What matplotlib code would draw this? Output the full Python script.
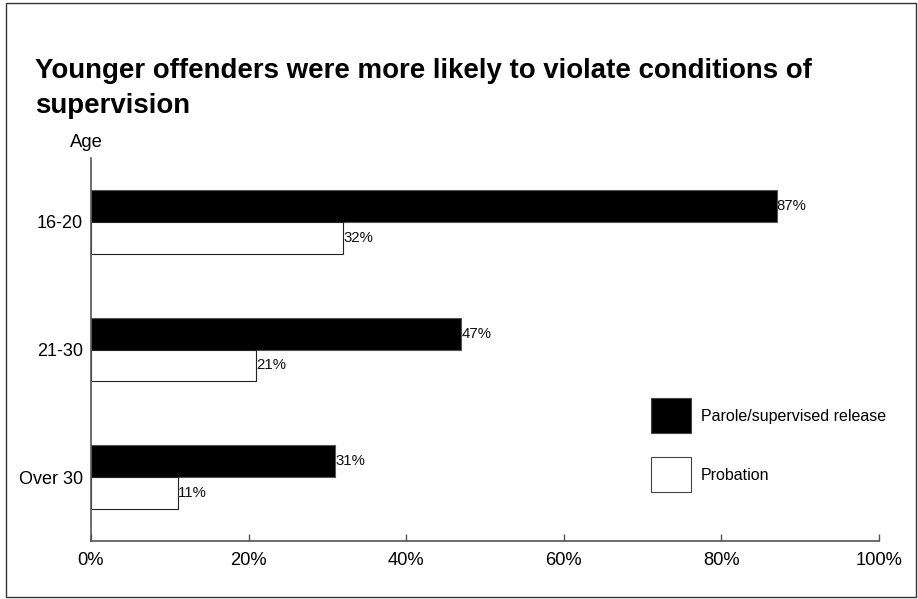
import matplotlib
matplotlib.use("Agg")
import matplotlib.pyplot as plt
from matplotlib.patches import Rectangle
import numpy as np

categories = ["16-20", "21-30", "Over 30"]
series_names = ["Parole/supervised release", "Probation"]
parole = [87, 47, 31]
probation = [32, 21, 11]
series_colors = ["#000000", "#ffffff"]
xticks = [0, 20, 40, 60, 80, 100]
xtick_labels = ["0%", "20%", "40%", "60%", "80%", "100%"]
title_lines = ["Younger offenders were more likely to violate conditions of", "supervision"]

plt.rcParams['font.family'] = ['Liberation Sans', 'DejaVu Sans']

W, H = 918, 599
fig = plt.figure(figsize=(W / 100, H / 100), dpi=100)
fig.patch.set_facecolor("white")

def fx(px):
    return px / W

def fy(py):
    return 1 - py / H

ax = fig.add_axes([fx(91), fy(541), fx(879) - fx(91), fy(158) - fy(541)])

y = np.arange(len(categories))
h = 0.25
bars1 = ax.barh(y - h / 2, parole, height=h, color=series_colors[0], edgecolor="#555555", linewidth=0.8)
bars2 = ax.barh(y + h / 2, probation, height=h, color=series_colors[1], edgecolor="#222222", linewidth=0.8)

for bars, vals in ((bars1, parole), (bars2, probation)):
    for b, v in zip(bars, vals):
        ax.text(b.get_width(), b.get_y() + b.get_height() / 2, f"{v}%",
                ha="left", va="center", fontsize=10.8, color="#111111")

ax.set_xlim(0, 100)
ax.set_ylim(2.5, -0.5)
ax.set_xticks(xticks)
ax.set_xticklabels(xtick_labels, fontsize=13.2)
ax.set_yticks(y)
ax.set_yticklabels(categories, fontsize=13)
ax.tick_params(axis="x", direction="in", length=5, width=1, color="#555555", pad=8)
ax.tick_params(axis="y", length=0, pad=6)
for s in ("top", "right"):
    ax.spines[s].set_visible(False)
for s in ("left", "bottom"):
    ax.spines[s].set_color("#555555")
    ax.spines[s].set_linewidth(1.2)

# title
fig.text(fx(35), fy(78), title_lines[0], fontsize=19.9, fontweight="bold", ha="left", va="baseline")
fig.text(fx(35), fy(113), title_lines[1], fontsize=19.9, fontweight="bold", ha="left", va="baseline")
fig.text(fx(86.5), fy(147), "Age", fontsize=13.3, ha="center", va="baseline")

# legend
leg_y = [398, 457]
for i, name in enumerate(series_names):
    r = Rectangle((fx(651), fy(leg_y[i] + 35)), fx(691) - fx(651), fy(leg_y[i]) - fy(leg_y[i] + 35),
                  transform=fig.transFigure, facecolor=series_colors[i], edgecolor="#444444", linewidth=0.8)
    fig.patches.append(r)
    fig.text(fx(701), fy(leg_y[i] + 18), name, fontsize=11.5, ha="left", va="center")

# outer border
border = Rectangle((fx(6), fy(597)), fx(916) - fx(6), fy(3) - fy(597), transform=fig.transFigure,
                   facecolor="none", edgecolor="#333333", linewidth=1.0)
fig.patches.append(border)

fig.savefig("out.png", dpi=100)
